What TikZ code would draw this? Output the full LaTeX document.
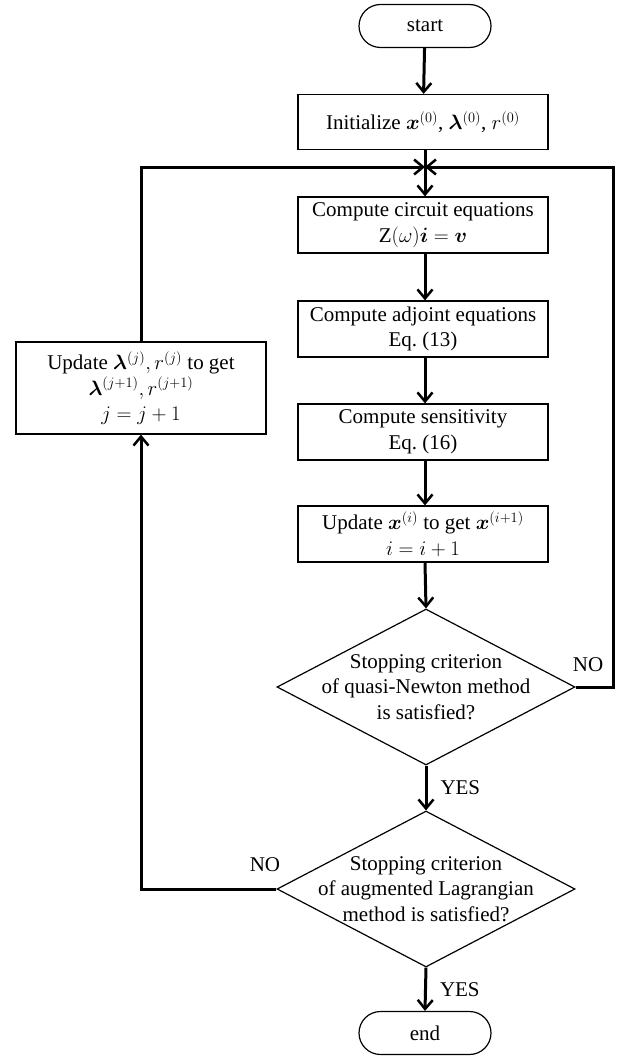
\documentclass[tikz,border=0pt]{standalone}
\usepackage{amsmath,bm}
\usepackage{fontspec}
\setmainfont{Liberation Serif}
\usetikzlibrary{shapes.geometric,arrows.meta}
\begin{document}
\begin{tikzpicture}[x=1pt,y=-1pt,
  font=\fontsize{21}{25.5}\selectfont,
  box/.style={draw, line width=1.2pt, minimum width=250, minimum height=56, inner sep=0, align=center},
  term/.style={draw, line width=1.2pt, minimum width=132, minimum height=43, rounded corners=21.5pt, inner sep=0},
  decision/.style={draw, diamond, line width=1.2pt, minimum width=298, minimum height=156, inner sep=0},
  inlbl/.style={align=center, inner sep=0},
  flow/.style={line width=3pt, -{Straight Barb[length=9pt,width=15pt,line width=2.5pt]}},
  tag/.style={inner sep=0}
]
\useasboundingbox (0,0) rectangle (625,1057);

\node[term] (start) at (425,26) {start};
\node[box, minimum height=55] (init) at (423,122) {Initialize $\bm{x}^{(0)}$, $\bm{\lambda}^{(0)}$, $r^{(0)}$};
\coordinate (J) at (425,167);
\coordinate (R) at (613,167);
\node[box] (circ) at (423,225) {Compute circuit equations\\ $\mathrm{Z}(\omega)\bm{i}=\bm{v}$};
\node[box] (adj) at (423,329) {Compute adjoint equations\\ Eq.~(13)};
\node[box] (sens) at (423,432) {Compute sensitivity\\ Eq.~(16)};
\node[box] (updx) at (423,534) {Update $\bm{x}^{(i)}$ to get $\bm{x}^{(i+1)}$\\ $i=i+1$};
\node[decision, label={[inlbl, name=d1t]center:{Stopping criterion\\ of quasi-Newton method\\ is satisfied?}}] (d1) at (426,687) {};
\node[decision, label={[inlbl, name=d2t]center:{Stopping criterion\\ of augmented Lagrangian\\ method is satisfied?}}] (d2) at (426,889) {};
\node[term] (end) at (425,1033) {end};
\node[box, minimum height=92] (lbox) at (141,388) {Update $\bm{\lambda}^{(j)}, r^{(j)}$ to get\\ $\bm{\lambda}^{(j+1)}, r^{(j+1)}$\\ $j=j+1$};

\draw[flow] (start) -- (init);
\draw[flow] (init.south -| J) -- (circ.north -| J);
\draw[flow] (circ.south -| J) -- (adj.north -| J);
\draw[flow] (adj.south -| J) -- (sens.north -| J);
\draw[flow] (sens.south -| J) -- (updx.north -| J);
\draw[flow] (updx.south -| J) -- (d1.north);
\draw[flow] (d1.south) -- node[tag, right=13pt] (yes1) {YES} (d2.north);
\draw[flow] (d2.south) -- node[tag, right=13pt] (yes2) {YES} (end.north);
\draw[flow] (d1.east) -| (R) -- (J);
\draw[flow] (lbox.north) |- (J);
\draw[flow] (d2.west) -| (lbox.south);
\node[tag] (no1) at (588,665) {NO};
\node[tag] (no2) at (265,865) {NO};
\end{tikzpicture}
\end{document}
